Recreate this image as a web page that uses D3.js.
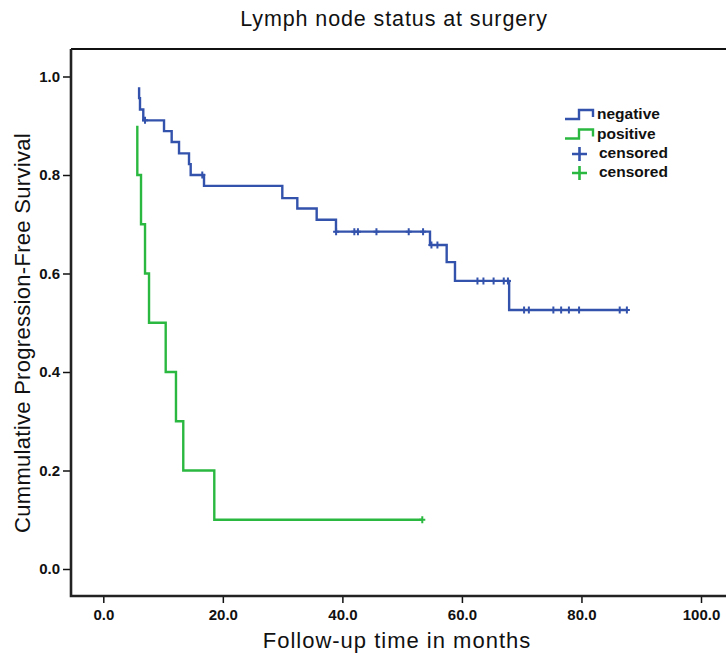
<!DOCTYPE html>
<html>
<head>
<meta charset="utf-8">
<script src="https://cdn.jsdelivr.net/npm/d3@7"></script>
<style>
  body { margin: 0; background: #fff; }
  svg { display: block; font-family: "Liberation Sans", Arial, sans-serif; }
  .tick text { font-weight: bold; font-size: 15px; fill: #111; }
  .tick line { stroke: #111; stroke-width: 1.5px; }
</style>
</head>
<body>
<svg id="chart" width="726" height="660"></svg>
<script>
// Kaplan-Meier steps
const negStart = [5.99, 0.978];
const negTimes = [5.99, 6.14, 6.69, 10.16, 11.44, 12.67, 14.34, 14.62, 16.85, 29.95, 32.46, 35.7, 38.93, 54.66, 57.45, 58.84, 67.9];
const negSurv = [0.956, 0.933, 0.911, 0.889, 0.867, 0.844, 0.822, 0.8, 0.778, 0.753, 0.732, 0.709, 0.685, 0.658, 0.623, 0.585, 0.526];
const negCensor = [6.98, 16.56, 38.95, 42.0, 42.6, 45.7, 51.1, 53.5, 54.9, 55.9, 62.6, 63.6, 65.3, 67.0, 67.7, 70.4, 71.2, 75.3, 76.6, 77.9, 79.6, 86.4, 87.6];

const posStart = [5.69, 0.9];
const posTimes = [5.69, 6.31, 6.98, 7.65, 10.44, 12.16, 13.38, 18.57];
const posSurv = [0.8, 0.7, 0.6, 0.5, 0.4, 0.3, 0.2, 0.1];
const posCensor = [53.37];

const xTicks = [0, 20, 40, 60, 80, 100];
const yTicks = [0, 0.2, 0.4, 0.6, 0.8, 1.0];

const blue = "#3352ac";
const green = "#2bb840";

const svg = d3.select("#chart");
const x = d3.scaleLinear().domain([0, 100]).range([103.3, 701]);
const y = d3.scaleLinear().domain([0, 1]).range([569, 76.5]);
const pLeft = 71, pTop = 49, pBottom = 596, pRight = 726;

// axes
svg.append("g").attr("transform", `translate(${pLeft},0)`)
  .call(d3.axisLeft(y).tickValues(yTicks).tickFormat(d3.format(".1f")).tickSize(8).tickPadding(3))
  .call(g => g.select(".domain").remove());
svg.append("g").attr("transform", `translate(0,${pBottom})`)
  .call(d3.axisBottom(x).tickValues(xTicks).tickFormat(d3.format(".1f")).tickSize(7).tickPadding(6))
  .call(g => g.select(".domain").remove());

svg.append("path")
  .attr("d", `M${pLeft},${pTop}H${pRight}`)
  .attr("stroke", "#111").attr("stroke-width", 1.8).attr("fill", "none");
svg.append("path")
  .attr("d", `M${pLeft},${pTop}V${pBottom}H${pRight}`)
  .attr("stroke", "#222").attr("stroke-width", 2.6).attr("fill", "none");

function survAt(times, surv, start, t) {
  const i = d3.bisectRight(times, t);
  return i === 0 ? start[1] : surv[i - 1];
}

function stepPath(start, times, surv, end) {
  let d = `M${x(start[0])},${y(start[1])}`;
  times.forEach((t, i) => {
    d += `H${x(t)}V${y(surv[i])}`;
  });
  d += `H${x(end)}`;
  return d;
}

function curve(start, times, surv, censor, color) {
  const end = d3.max(censor.concat(times));
  svg.append("path")
    .attr("d", stepPath(start, times, surv, end))
    .attr("fill", "none").attr("stroke", color).attr("stroke-width", 2.4);
  svg.append("g").selectAll("path").data(censor).join("path")
    .attr("d", t => {
      const cx = x(t), cy = y(survAt(times, surv, start, t));
      return `M${cx - 3},${cy}H${cx + 3}M${cx},${cy - 3.5}V${cy + 3.5}`;
    })
    .attr("stroke", color).attr("stroke-width", 2).attr("fill", "none");
}

curve(negStart, negTimes, negSurv, negCensor, blue);
curve(posStart, posTimes, posSurv, posCensor, green);

// legend
const legend = [
  { label: "negative", color: blue, kind: "line", y: 119 },
  { label: "positive", color: green, kind: "line", y: 138.5 },
  { label: "censored", color: blue, kind: "cross", y: 157.5 },
  { label: "censored", color: green, kind: "cross", y: 176.5 }
];
const lg = svg.append("g");
legend.forEach(l => {
  if (l.kind === "line") {
    lg.append("path")
      .attr("d", `M565,${l.y}H579V${l.y - 9}H593V${l.y - 2}`)
      .attr("fill", "none").attr("stroke", l.color).attr("stroke-width", 2.4);
    lg.append("text").attr("x", 597).attr("y", l.y)
      .attr("font-size", 15.5).attr("font-weight", "bold").attr("fill", "#111").text(l.label);
  } else {
    const cy = l.y - 3.5;
    lg.append("path")
      .attr("d", `M572,${cy}H587M579.5,${cy - 7}V${cy + 7}`)
      .attr("fill", "none").attr("stroke", l.color).attr("stroke-width", 2.6);
    lg.append("text").attr("x", 599).attr("y", l.y)
      .attr("font-size", 15.5).attr("font-weight", "bold").attr("fill", "#111").text(l.label);
  }
});

// titles
svg.append("text").attr("x", 394).attr("y", 26).attr("text-anchor", "middle")
  .attr("font-size", 21.5).attr("letter-spacing", 0.9).attr("fill", "#111")
  .text("Lymph node status at surgery");
svg.append("text").attr("x", 397).attr("y", 648).attr("text-anchor", "middle")
  .attr("font-size", 22).attr("letter-spacing", 1).attr("fill", "#111")
  .text("Follow-up time in months");
svg.append("text").attr("transform", "translate(30,333) rotate(-90)").attr("text-anchor", "middle")
  .attr("font-size", 22).attr("letter-spacing", 0.3).attr("fill", "#111")
  .text("Cummulative Progression-Free Survival");
</script>
</body>
</html>
